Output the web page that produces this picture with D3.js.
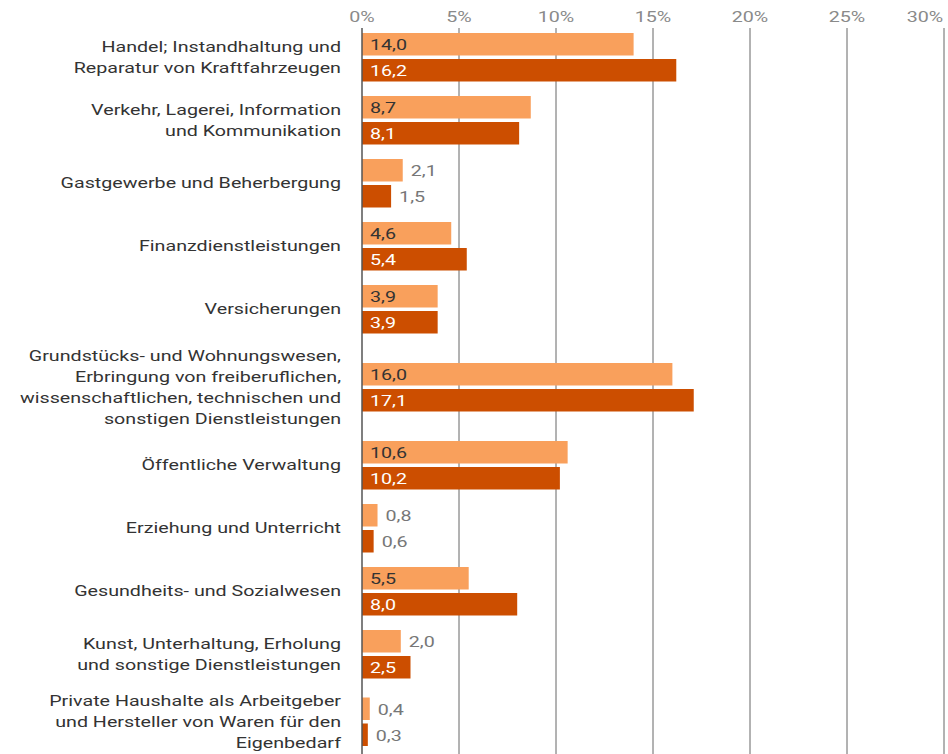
<html>
<head>
<script src="https://cdn.jsdelivr.net/npm/d3@7"></script>
<style>
  body { margin: 0; background: #fff; font-family: Roboto, sans-serif; }
</style>
</head>
<body>
<svg id="chart" width="948" height="754"></svg>
<script>
// data
var categories = [
  ["Handel; Instandhaltung und", "Reparatur von Kraftfahrzeugen"],
  ["Verkehr, Lagerei, Information", "und Kommunikation"],
  ["Gastgewerbe und Beherbergung"],
  ["Finanzdienstleistungen"],
  ["Versicherungen"],
  ["Grundstücks- und Wohnungswesen,", "Erbringung von freiberuflichen,", "wissenschaftlichen, technischen und", "sonstigen Dienstleistungen"],
  ["Öffentliche Verwaltung"],
  ["Erziehung und Unterricht"],
  ["Gesundheits- und Sozialwesen"],
  ["Kunst, Unterhaltung, Erholung", "und sonstige Dienstleistungen"],
  ["Private Haushalte als Arbeitgeber", "und Hersteller von Waren für den", "Eigenbedarf"]
];
var seriesA = [14.0, 8.7, 2.1, 4.6, 3.9, 16.0, 10.6, 0.8, 5.5, 2.0, 0.4];
var seriesB = [16.2, 8.1, 1.5, 5.4, 3.9, 17.1, 10.2, 0.6, 8.0, 2.5, 0.3];
var ticks = [0, 5, 10, 15, 20, 25, 30];
var colors = ["#f9a05c", "#cc4e00"];

var svg = d3.select("#chart");
var x = d3.scaleLinear().domain([0, 30]).range([362, 944]);
var SX = 1.27; // text in the original is stretched horizontally

// row centers from label line count
var centers = [], pos = 25.5;
categories.forEach(function(c) {
  var h = Math.max(63, c.length * 21 + 9);
  centers.push(pos + h / 2);
  pos += h;
});

function label(px, py) {
  return svg.append("text")
    .attr("transform", "translate(" + px + "," + py + ") scale(" + SX + ",1)")
    .attr("font-size", 15.5);
}

// grid
svg.selectAll(".grid").data(ticks.slice(1)).enter().append("line")
  .attr("x1", d => x(d)).attr("x2", d => x(d))
  .attr("y1", 28).attr("y2", 754)
  .attr("stroke", "#666").attr("stroke-width", 1);

ticks.forEach(function(d) {
  label(d == 30 ? 925 : x(d), 22).attr("text-anchor", "middle")
    .attr("fill", "#8a8a8a").text(d + "%");
});

var fmt = v => v.toFixed(1).replace(".", ",");

[seriesA, seriesB].forEach(function(s, si) {
  s.forEach(function(v, i) {
    var y0 = centers[i] - 24 + si * 26;
    svg.append("rect")
      .attr("x", x(0)).attr("y", y0)
      .attr("width", x(v) - x(0)).attr("height", 22.5)
      .attr("fill", colors[si]);
    var inside = v >= 2.5;
    label(inside ? x(0) + 8 : x(v) + 8, y0 + 17)
      .attr("fill", inside ? (si == 0 ? "#333" : "#fff") : "#777")
      .text(fmt(v));
  });
});

// zero line
svg.append("line").attr("x1", x(0)).attr("x2", x(0))
  .attr("y1", 28).attr("y2", 754).attr("stroke", "#555").attr("stroke-width", 1.5);

// category labels
categories.forEach(function(c, i) {
  var top = centers[i] - (c.length - 1) * 21 / 2 + 5;
  c.forEach(function(line, j) {
    label(341, top + j * 21).attr("text-anchor", "end")
      .attr("fill", "#333").text(line);
  });
});
</script>
</body>
</html>
